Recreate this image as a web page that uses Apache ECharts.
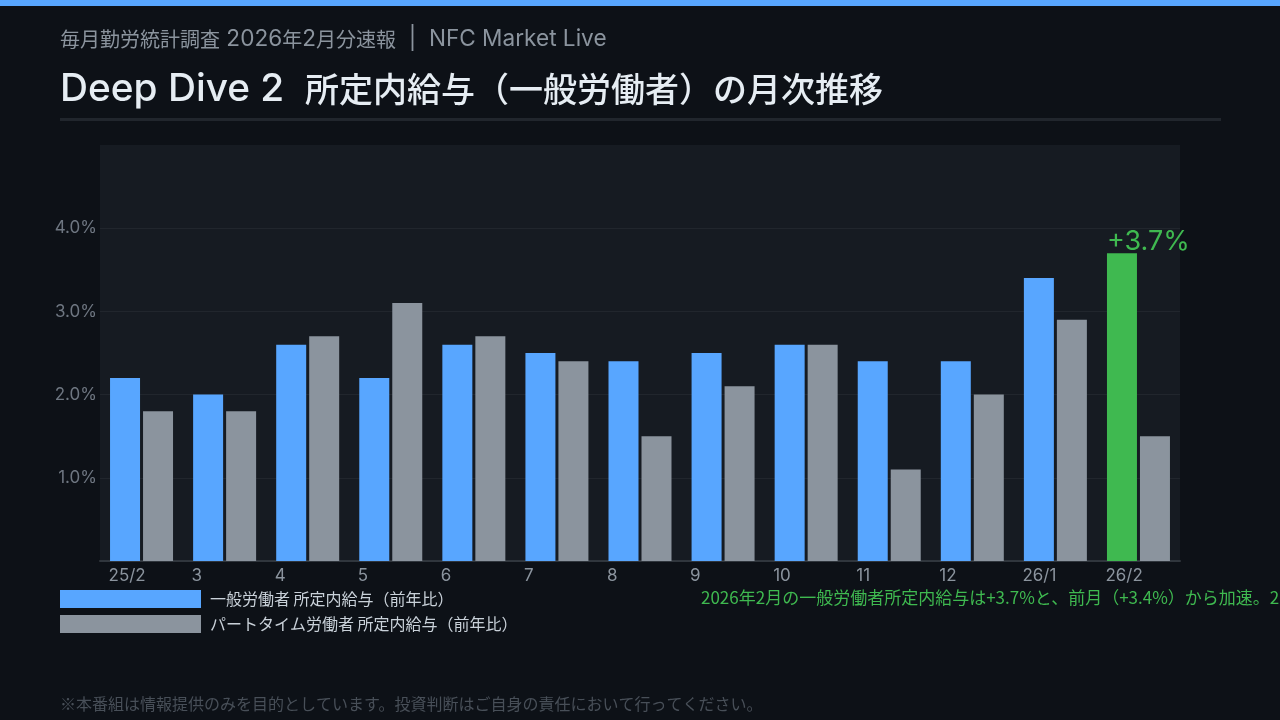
<!DOCTYPE html>
<html>
<head>
<meta charset="utf-8">
<script src="https://cdn.jsdelivr.net/npm/echarts@6/dist/echarts.min.js"></script>
<style>
  html, body { margin: 0; padding: 0; background: #0d1117; }
  #chart { width: 1280px; height: 720px; }
</style>
</head>
<body>
<div id="chart"></div>
<script>
const months = ['25/2', '3', '4', '5', '6', '7', '8', '9', '10', '11', '12', '26/1', '26/2']
const general = [2.2, 2.0, 2.6, 2.2, 2.6, 2.5, 2.4, 2.5, 2.6, 2.4, 2.4, 3.4, 3.7]
const partTime = [1.8, 1.8, 2.7, 3.1, 2.7, 2.4, 1.5, 2.1, 2.6, 1.1, 2.0, 2.9, 1.5]
const yTicks = [0, 1, 2, 3, 4, 5]

const BLUE = '#58a6ff'
const GRAY = '#8b949e'
const GREEN = '#3fb950'
const CJK = "'Noto Sans CJK JP', sans-serif"
const LATIN = "Inter, 'Noto Sans CJK JP', sans-serif"

// latin glyphs run a bit larger than the kana/kanji in the header lines
function mixed(str, latinSize, cjkSize, color, weight) {
  const parts = str.match(/[\u3000-\u9fff\uff00-\uffef]+|[^\u3000-\u9fff\uff00-\uffef]+/g)
  const text = parts.map(p => /[\u3000-\u9fff\uff00-\uffef]/.test(p) ? `{c|${p}}` : `{l|${p}}`).join('')
  return {
    text,
    rich: {
      l: { fontFamily: LATIN, fontSize: latinSize, fontWeight: weight, fill: color },
      c: { fontFamily: CJK, fontSize: cjkSize, fontWeight: weight, fill: color },
    },
  }
}

const chart = echarts.init(document.getElementById('chart'))
const last = general.length - 1

chart.setOption({
  backgroundColor: '#0d1117',
  textStyle: { fontFamily: CJK },
  animation: false,
  graphic: [
    { type: 'rect', shape: { x: 0, y: 0, width: 1280, height: 6 }, style: { fill: BLUE } },
    {
      type: 'text', x: 60, y: 39,
      style: { ...mixed('毎月勤労統計調査 2026年2月分速報  |  NFC Market Live', 22.6, 20, '#8b949e', 400), verticalAlign: 'middle' },
    },
    {
      type: 'text', x: 60, y: 89,
      style: { ...mixed('Deep Dive 2  所定内給与（一般労働者）の月次推移', 38.8, 34, '#e6edf3', 500), verticalAlign: 'middle' },
    },
    { type: 'rect', shape: { x: 60, y: 118, width: 1161, height: 3 }, style: { fill: '#21262d' } },
    {
      type: 'text', left: 701, top: 589,
      style: { text: '2026年2月の一般労働者所定内給与は+3.7%と、前月（+3.4%）から加速。20', fill: GREEN, font: `17px ${CJK}` },
    },
    {
      type: 'text', left: 60, top: 696,
      style: { text: '※本番組は情報提供のみを目的としています。投資判断はご自身の責任において行ってください。', fill: '#484f58', font: `16px ${CJK}` },
    },
  ],
  grid: {
    left: 100, right: 100, top: 145, bottom: 159,
    show: true, backgroundColor: '#161b22', borderWidth: 0,
  },
  legend: {
    left: 55, top: 585, orient: 'vertical',
    icon: 'rect', itemWidth: 141, itemHeight: 18, itemGap: 7,
    textStyle: { color: '#c9d1d9', fontSize: 16, fontFamily: CJK, padding: [0, 0, 0, 4] },
    data: ['一般労働者 所定内給与（前年比）', 'パートタイム労働者 所定内給与（前年比）'],
  },
  xAxis: {
    type: 'category',
    data: months,
    axisLine: { lineStyle: { color: '#30363d', width: 2 } },
    axisTick: { show: false },
    axisLabel: {
      color: '#8b949e', fontSize: 17, fontFamily: LATIN, margin: 6,
      align: 'left', padding: [0, 0, 0, -33],
    },
  },
  yAxis: {
    type: 'value',
    min: yTicks[0], max: yTicks[yTicks.length - 1], interval: 1,
    axisLine: { show: false },
    axisTick: { show: false },
    axisLabel: {
      color: '#6e7681', fontSize: 17, fontFamily: LATIN, margin: 3,
      formatter: v => (v === yTicks[0] || v === yTicks[yTicks.length - 1]) ? '' : v.toFixed(1) + '%',
    },
    splitLine: { lineStyle: { color: ['transparent', '#21262d', '#21262d', '#21262d', '#21262d', 'transparent'] } },
  },
  series: [
    {
      name: '一般労働者 所定内給与（前年比）',
      type: 'bar',
      barWidth: 30,
      barGap: '10%',
      itemStyle: { color: BLUE },
      data: general.map((v, i) => i !== last ? v : {
        value: v,
        itemStyle: { color: GREEN },
        label: {
          show: true, position: 'top', distance: 0, align: 'left', offset: [-15, 2],
          formatter: '+{c}%', color: GREEN, fontSize: 27, fontFamily: LATIN,
        },
      }),
    },
    {
      name: 'パートタイム労働者 所定内給与（前年比）',
      type: 'bar',
      barWidth: 30,
      itemStyle: { color: GRAY },
      data: partTime,
    },
  ],
})
</script>
</body>
</html>
